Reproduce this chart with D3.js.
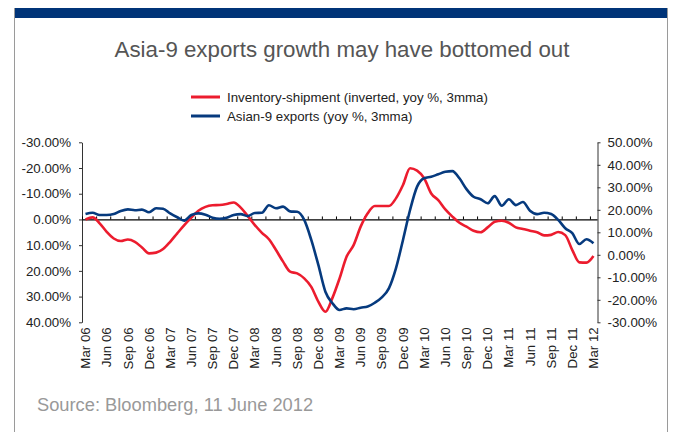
<!DOCTYPE html>
<html>
<head>
<meta charset="utf-8">
<script src="https://cdn.jsdelivr.net/npm/d3@7"></script>
<style>
  html, body { margin: 0; padding: 0; background: #fff; }
  svg { display: block; font-family: "Liberation Sans", Arial, Helvetica, sans-serif; }
</style>
</head>
<body>
<svg id="chart" width="673" height="432"></svg>
<script>
// Quarterly axis labels (monthly data, Mar 06 – Mar 12)
const tickLabels = ["Mar 06","Jun 06","Sep 06","Dec 06","Mar 07","Jun 07","Sep 07","Dec 07",
  "Mar 08","Jun 08","Sep 08","Dec 08","Mar 09","Jun 09","Sep 09","Dec 09",
  "Mar 10","Jun 10","Sep 10","Dec 10","Mar 11","Jun 11","Sep 11","Dec 11","Mar 12"];

// Inventory-shipment ratio, yoy %, 3mma (plotted on the inverted left axis)
const inventoryShipment = [
  0.0, -0.8, 1.5, 4.8, 7.4, 8.4, 7.8, 8.7, 10.9, 13.2, 12.9, 11.5,
  8.7, 5.4, 2.2, -0.7, -3.4, -4.9, -5.5, -5.6, -6.0, -6.6, -4.6, -1.3,
  2.2, 5.2, 7.7, 11.9, 16.4, 20.3, 21.0, 22.9, 26.2, 32.0, 35.9, 30.5,
  23.0, 14.5, 10.0, 2.8, -2.4, -5.2, -5.2, -5.2, -8.2, -13.4, -19.9, -19.0,
  -16.0, -10.1, -7.5, -3.9, -1.1, 1.3, 2.8, 4.4, 5.0, 3.1, 0.9, 0.5,
  1.3, 3.1, 3.7, 4.4, 5.0, 6.2, 6.0, 4.9, 6.1, 11.9, 16.7, 16.8, 14.2
];

// Asian-9 exports, yoy %, 3mma (right axis)
const asia9Exports = [
  18.1, 18.7, 17.7, 17.7, 18.1, 19.5, 20.2, 19.8, 20.1, 18.9, 20.7, 20.5,
  18.4, 16.7, 15.2, 17.7, 18.4, 17.8, 16.5, 16.0, 16.5, 17.7, 18.1, 17.2,
  18.6, 18.7, 22.0, 20.7, 21.4, 19.3, 19.1, 15.5, 6.6, -4.5, -16.4, -21.5,
  -24.5, -23.8, -24.2, -23.5, -23.0, -21.3, -18.9, -14.9, -6.0, 6.6, 19.9, 30.3,
  34.0, 34.7, 35.8, 36.9, 37.2, 34.0, 29.2, 25.8, 24.7, 22.9, 26.1, 21.8,
  24.7, 22.1, 23.5, 19.6, 18.1, 18.7, 18.1, 15.5, 11.8, 9.6, 4.8, 6.9, 5.1
];

const leftTicks = [-30, -20, -10, 0, 10, 20, 30, 40];
const rightTicks = [-30, -20, -10, 0, 10, 20, 30, 40, 50];

const seriesNames = ["Inventory-shipment (inverted, yoy %, 3mma)", "Asian-9 exports (yoy %, 3mma)"];
const RED = "#ec1c2e", NAVY = "#063a7e";

// One category per month
const months = d3.timeMonth.range(new Date(2006, 2, 1), new Date(2012, 3, 1));
const fmtMonth = d3.timeFormat("%b %y");

const svg = d3.select("#chart");

// Frame: navy band on top, thin grey sides
svg.append("rect").attr("x", 14).attr("y", 8).attr("width", 654).attr("height", 10).attr("fill", "#003478");
svg.append("line").attr("x1", 14.5).attr("x2", 14.5).attr("y1", 8).attr("y2", 432).attr("stroke", "#9a9a9a").attr("stroke-width", 1);
svg.append("line").attr("x1", 667.5).attr("x2", 667.5).attr("y1", 8).attr("y2", 432).attr("stroke", "#9a9a9a").attr("stroke-width", 1);

svg.append("text").attr("x", 342).attr("y", 57).attr("text-anchor", "middle")
  .attr("font-size", 22.3).attr("fill", "#555").text("Asia-9 exports growth may have bottomed out");

// Legend
const legend = svg.append("g");
[[RED, 97], [NAVY, 116]].forEach(([c, y], i) => {
  legend.append("line").attr("x1", 191).attr("x2", 220).attr("y1", y).attr("y2", y)
    .attr("stroke", c).attr("stroke-width", 3);
  legend.append("text").attr("x", 227).attr("y", y + 4.7).attr("font-size", 13.3).attr("fill", "#222")
    .text(seriesNames[i]);
});

// Plot bounds and scales
const plotLeft = 82, plotRight = 597, plotTop = 142.3, plotBottom = 322.3;
const x = d3.scaleBand().domain(months).range([plotLeft, plotRight]);
const xIdx = d3.scaleLinear().domain([0, months.length]).range([plotLeft, plotRight]);
const yL = d3.scaleLinear().domain([-30, 40]).range([plotTop, plotBottom]);
const yR = d3.scaleLinear().domain([-30, 50]).range([plotBottom, plotTop]);
const cx = d => x(d) + x.bandwidth() / 2;

const pct = d => d.toFixed(2) + "%";

// Left axis
const gL = svg.append("g").attr("transform", `translate(${plotLeft},0)`)
  .call(d3.axisLeft(yL).tickValues(leftTicks).tickFormat(pct).tickSize(3).tickSizeOuter(0).tickPadding(8));
// Right axis
const gR = svg.append("g").attr("transform", `translate(${plotRight + 0.5},0)`)
  .call(d3.axisRight(yR).tickValues(rightTicks).tickFormat(pct).tickSize(3).tickSizeOuter(0).tickPadding(7));
[gL, gR].forEach(g => {
  g.select(".domain").attr("stroke", "#333");
  g.selectAll(".tick line").attr("stroke", "#333");
  g.selectAll("text").attr("font-size", 13.3).attr("fill", "#222").attr("font-family", null);
});

// Horizontal axis along zero, tick marks every two months
const gZ = svg.append("g").attr("transform", `translate(0,${yL(0)})`)
  .call(d3.axisTop(xIdx).tickValues(d3.range(0, months.length + 1, 2)).tickFormat("").tickSize(3).tickSizeOuter(0));
gZ.select(".domain").attr("stroke", "#000").attr("stroke-width", 1.3);
gZ.selectAll(".tick line").attr("stroke", "#000");

// Quarterly labels at the bottom, rotated
const quarterMonths = months.filter(m => tickLabels.includes(fmtMonth(m)));
const gX = svg.append("g").attr("transform", `translate(0,${plotBottom})`)
  .call(d3.axisBottom(x).tickValues(quarterMonths).tickFormat(fmtMonth).tickSize(0));
gX.select(".domain").remove();
gX.selectAll("text")
  .attr("font-size", 13.3).attr("fill", "#222").attr("font-family", null)
  .attr("text-anchor", "end").attr("transform", "rotate(-90)")
  .attr("x", -5).attr("y", 0).attr("dy", "0.35em");

// Lines
const lineL = d3.line().x((d, i) => cx(months[i])).y(d => yL(d)).curve(d3.curveMonotoneX);
const lineR = d3.line().x((d, i) => cx(months[i])).y(d => yR(d)).curve(d3.curveMonotoneX);

svg.append("path").datum(inventoryShipment).attr("d", lineL)
  .attr("fill", "none").attr("stroke", RED).attr("stroke-width", 2.6).attr("stroke-linejoin", "round");
svg.append("path").datum(asia9Exports).attr("d", lineR)
  .attr("fill", "none").attr("stroke", NAVY).attr("stroke-width", 2.6).attr("stroke-linejoin", "round");

// Source note
svg.append("text").attr("x", 37).attr("y", 411).attr("font-size", 18.3).attr("fill", "#999")
  .text("Source: Bloomberg, 11 June 2012");
</script>
</body>
</html>
